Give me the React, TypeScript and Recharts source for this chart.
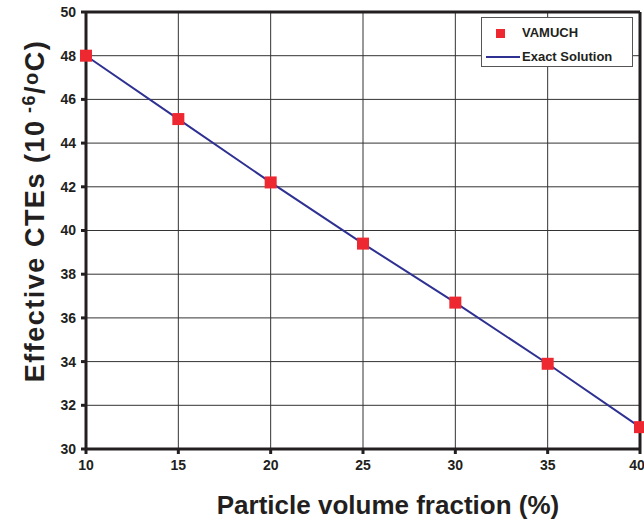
import React from "react";
import {
  CartesianGrid,
  Line,
  LineChart,
  ReferenceLine,
  XAxis,
  YAxis
} from "recharts";

const fractions = [10, 15, 20, 25, 30, 35, 40];
const vamuch = [48, 45.1, 42.2, 39.4, 36.7, 33.9, 31];
const exact = [48, 45.1, 42.2, 39.4, 36.7, 33.9, 31];
const xTicks = [10, 15, 20, 25, 30, 35, 40];
const yTicks = [30, 32, 34, 36, 38, 40, 42, 44, 46, 48, 50];

const data = fractions.map((f, i) => ({ f, vamuch: vamuch[i], exact: exact[i] }));

const FONT = "'Liberation Sans', Arial, sans-serif";
const TEXT = "#231f20";
const RED = "#ed2830";
const NAVY = "#2e3192";

const Square = (props: any) => {
  const { cx, cy } = props;
  if (cx == null || cy == null) return null;
  return <rect x={cx - 6} y={cy - 6} width={12} height={12} fill={RED} />;
};

const YTitle = () => (
  <text
    transform="translate(44 211) rotate(-90)"
    textAnchor="middle"
    fontFamily={FONT}
    fontWeight="bold"
    fontSize={27}
    letterSpacing={1.5}
    fill={TEXT}
  >
    Effective CTEs (10
    <tspan fontSize={18} dy={-9}> -6</tspan>
    <tspan dy={9}>/</tspan>
    <tspan fontSize={20} dy={-6}>o</tspan>
    <tspan dy={6}>C)</tspan>
  </text>
);

const LegendBox = () => (
  <div
    style={{
      position: "absolute",
      left: 481,
      top: 17,
      width: 150,
      height: 48,
      border: "1px solid #555",
      background: "#fff",
      fontFamily: FONT,
      fontWeight: "bold",
      fontSize: 13,
      color: TEXT
    }}
  >
    <div style={{ position: "absolute", left: 14, top: 11, width: 9, height: 9, background: RED }} />
    <div style={{ position: "absolute", left: 40, top: 7 }}>VAMUCH</div>
    <div style={{ position: "absolute", left: 4, top: 38, width: 34, height: 2, background: NAVY }} />
    <div style={{ position: "absolute", left: 40, top: 31 }}>Exact Solution</div>
  </div>
);

export default function App() {
  return (
    <div style={{ position: "absolute", left: 0, top: 0, width: 644, height: 520, background: "#fff" }}>
      <LineChart
        width={644}
        height={520}
        data={data}
        margin={{ top: 12, right: 4, left: 0, bottom: 0 }}
      >
        <CartesianGrid stroke="#333" strokeWidth={1} />
        <XAxis
          dataKey="f"
          type="number"
          domain={[10, 40]}
          ticks={xTicks}
          height={71}
          tickSize={5}
          tickMargin={6}
          stroke="#231f20"
          strokeWidth={3}
          tick={{ fontFamily: FONT, fontWeight: "bold", fontSize: 14, fill: TEXT }}
          label={{
            value: "Particle volume fraction (%)",
            position: "insideBottom",
            offset: 6,
            dx: 25,
            style: { fontFamily: FONT, fontWeight: "bold", fontSize: 26, fill: TEXT }
          }}
        />
        <YAxis
          type="number"
          domain={[30, 50]}
          ticks={yTicks}
          width={86}
          tickSize={5}
          tickMargin={5}
          stroke="#231f20"
          strokeWidth={3}
          tick={{ fontFamily: FONT, fontWeight: "bold", fontSize: 14, fill: TEXT }}
          label={<YTitle />}
        />
        <ReferenceLine y={50} stroke="#231f20" strokeWidth={3} />
        <ReferenceLine x={40} stroke="#231f20" strokeWidth={3} />
        <Line
          dataKey="exact"
          name="Exact Solution"
          stroke={NAVY}
          strokeWidth={2}
          dot={false}
          activeDot={false}
          isAnimationActive={false}
        />
        <Line
          dataKey="vamuch"
          name="VAMUCH"
          stroke="none"
          dot={<Square />}
          activeDot={false}
          isAnimationActive={false}
        />
      </LineChart>
      <LegendBox />
    </div>
  );
}
